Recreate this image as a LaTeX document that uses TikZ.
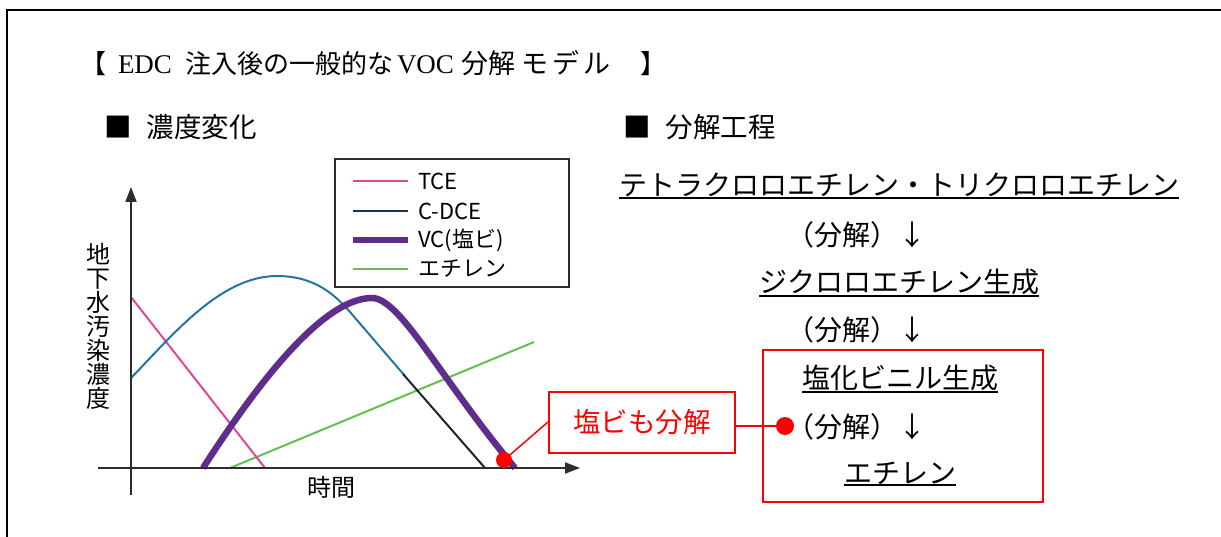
\documentclass[tikz,border=0pt]{standalone}
\usepackage{fontspec}
\setmainfont{Liberation Serif}
\newfontfamily\jp{Noto Sans CJK JP}
\usetikzlibrary{arrows.meta}
\newcommand\myfs[1]{\fontsize{#1}{#1}\selectfont}
\definecolor{tcecol}{RGB}{222,72,150}
\definecolor{dcecol}{RGB}{40,115,160}
\definecolor{dcedark}{RGB}{30,35,50}
\definecolor{dcelegend}{RGB}{25,55,85}
\definecolor{vccol}{RGB}{95,45,140}
\definecolor{ethcol}{RGB}{100,190,80}
\definecolor{axiscol}{RGB}{45,45,45}
\definecolor{myred}{RGB}{255,0,0}
\tikzset{
  jptext/.style={font=\jp\myfs{28}, inner sep=0pt, outer sep=0pt},
  titlepart/.style={anchor=base west, inner sep=0pt, outer sep=0pt},
  uline/.style={line width=2.3pt},
  legtext/.style={font=\jp\myfs{22}, anchor=west, inner sep=0pt},
  axisline/.style={axiscol, line width=2pt, -{Triangle[length=15pt,width=11pt]}},
  redbox/.style={draw=myred, line width=2pt, inner sep=0pt},
  reddot/.style={circle, fill=myred, inner sep=0pt},
}
\begin{document}
\begin{tikzpicture}[x=1pt,y=-1pt]
\useasboundingbox (0,0) rectangle (1221,537);
% frame
\draw[line width=2pt] (7,537) -- (7,10) -- (1221,10);
% title
\node[titlepart, font=\jp\myfs{26}] (t1) at (80,74) {【};
\node[titlepart, font=\myfs{27}] (t2) at (118,74) {EDC};
\node[titlepart, font=\jp\myfs{26}] (t3) at ([xshift=13pt]t2.base east) {注入後の一般的な};
\node[titlepart, font=\myfs{27}] (t4) at ([xshift=4pt]t3.base east) {VOC};
\node[titlepart, font=\jp\myfs{27}] (t5) at ([xshift=7pt]t4.base east) {分解};
\node[titlepart, font=\jp\myfs{27}] (t6) at ([xshift=6pt]t5.base east) {モ\hspace{4pt}デ\hspace{4pt}ル};
\node[titlepart, font=\jp\myfs{26}] (t7) at (640,74) {】};
% headings
\node[anchor=west, inner sep=0pt, font=\jp\myfs{27.5}] (h1) at (104,127) {■\hspace{15pt}濃度変化};
\node[anchor=west, inner sep=0pt, font=\jp\myfs{27.5}] (h2) at (623,127) {■\hspace{15pt}分解工程};

% ---- chart ----
\coordinate (yb) at (131,495);
\coordinate (yt) at (131,187);
\coordinate (xl) at (98,468);
\coordinate (xr) at (580,468);
% curves
\draw[ethcol, line width=2pt] (230,468) -- (534,342);
\draw[tcecol, line width=2pt] (131,297) -- (265,468);
\draw[dcecol, line width=2pt] (131,378) .. controls (172,336) and (220,276) .. (277,276)
   .. controls (315,276) and (335,295) .. (350,312) -- (405,376);
\draw[dcedark, line width=2pt] (403,374) -- (485,468);
\draw[vccol, line width=6.5pt] (203,468) .. controls (250,395) and (320,298) .. (372,298)
   .. controls (400,298) and (440,378) .. (515,468);
% axes
\draw[axisline] (xl) -- (xr);
\draw[axisline] (yb) -- (yt);
\node[font=\jp\myfs{24}, align=center, inner sep=0pt] (ylab) at (98,326)
  {\fontsize{24}{25.6}\selectfont 地\\下\\水\\汚\\染\\濃\\度};
\node[font=\jp\myfs{24}, inner sep=0pt] (xlab) at (331,487) {時間};
% legend
\node[draw=axiscol, line width=2pt, minimum width=234pt, minimum height=128pt, inner sep=0pt] (legend) at (452,223) {};
\draw[tcecol, line width=2pt] (353,181) -- (408,181);
\node[legtext] (lg1) at (418,181) {TCE};
\draw[dcelegend, line width=2pt] (353,211) -- (408,211);
\node[legtext] (lg2) at (418,211) {C-DCE};
\draw[vccol, line width=6pt] (353,240) -- (408,240);
\node[legtext] (lg3) at (418,240) {VC(塩ビ)};
\draw[ethcol, line width=2pt] (353,269) -- (408,269);
\node[legtext] (lg4) at (418,269) {エチレン};

% ---- decomposition steps ----
\node[jptext] (s1) at (899,185) {テトラクロロエチレン・トリクロロエチレン};
\draw[uline] ([yshift=-1pt]s1.south west) -- ([yshift=-1pt]s1.south east);
\node[jptext, anchor=west] (a1) at (786,235) {（分解）↓};
\node[jptext] (s2) at (899,282) {ジクロロエチレン生成};
\draw[uline] ([yshift=-1pt]s2.south west) -- ([yshift=-1pt]s2.south east);
\node[jptext, anchor=west] (a2) at (786,330) {（分解）↓};
\node[jptext] (s3) at (900,378) {塩化ビニル生成};
\draw[uline] ([yshift=-1pt]s3.south west) -- ([yshift=-1pt]s3.south east);
\node[jptext, anchor=west] (a3) at (786,427) {（分解）↓};
\node[jptext] (s4) at (900,473) {エチレン};
\draw[uline] ([yshift=-1pt]s4.south west) -- ([yshift=-1pt]s4.south east);
\node[redbox, minimum width=280pt, minimum height=152pt] (bigbox) at (903,426) {};

% ---- callout ----
\node[redbox, minimum width=186pt, minimum height=61pt, text=myred, font=\jp\myfs{27.5}] (vcbox) at (642,422) {塩ビも分解};
\node[reddot, minimum size=16pt] (dot1) at (504,460) {};
\node[reddot, minimum size=18pt] (dot2) at (785,426) {};
\draw[myred, line width=1.5pt] (dot1.center) -- (vcbox.west);
\draw[myred, line width=1.5pt] (vcbox.east |- dot2) -- (dot2.center);
\end{tikzpicture}
\end{document}
